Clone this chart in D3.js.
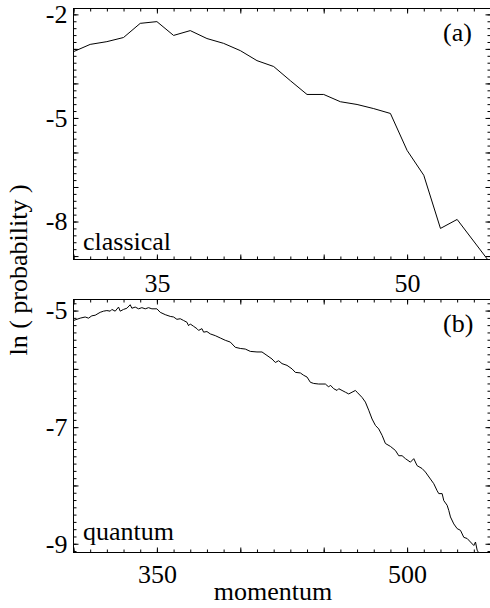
<!DOCTYPE html>
<html>
<head>
<meta charset="utf-8">
<script src="https://cdn.jsdelivr.net/npm/d3@7"></script>
<style>
  html, body { margin: 0; padding: 0; background: #fff; }
  svg { display: block; }
  text { font-family: "Liberation Serif", "Times New Roman", serif; fill: #000; }
</style>
</head>
<body>
<svg id="chart" width="490" height="608"></svg>
<script>
// Classical distribution: momentum vs ln(probability)
const classicalMomentum = [30, 31, 32, 33, 34, 35, 36, 37, 38, 39, 40, 41, 42, 43, 44, 45, 46, 47, 48, 49, 50, 51, 52, 53, 55];
const classicalLn = [-3.08, -2.87, -2.79, -2.67, -2.26, -2.21, -2.61, -2.47, -2.70, -2.84, -3.05, -3.34, -3.51, -3.92, -4.32, -4.32, -4.53, -4.61, -4.73, -4.87, -5.94, -6.66, -8.20, -7.94, -9.21];

// Quantum distribution: momentum vs ln(probability)
const quantumMomentum = [300, 304, 307, 309, 311, 313, 316, 318, 320, 322, 323, 325, 327, 328, 330, 332, 334, 335, 337, 339,
  341, 343, 345, 347, 350, 352, 355, 358, 360, 362, 364, 366, 368, 369, 370, 372, 374, 375, 377, 378,
  380, 382, 385, 388, 391, 394, 397, 400, 403, 406, 410, 413, 416, 419, 421, 423, 425, 428, 431, 433,
  436, 438, 440, 442, 444, 447, 451, 453, 454, 456, 458, 459, 461, 463, 465, 467, 469, 470, 473, 475,
  477, 479, 481, 483, 485, 487, 490, 493, 495, 497, 499, 502, 504, 506, 509, 511, 514, 516, 518, 519,
  521, 522, 524, 525, 526, 528, 530, 532, 534, 536, 538, 540, 541, 542, 543];
const quantumLn = [-5.17, -5.13, -5.11, -5.13, -5.09, -5.08, -5.03, -5.01, -5.00, -5.01, -4.98, -5.01, -4.94, -5.01, -4.98, -4.96, -4.90, -4.96, -4.94, -4.97,
  -4.95, -4.97, -4.95, -4.97, -4.97, -5.03, -5.07, -5.10, -5.11, -5.15, -5.14, -5.17, -5.20, -5.26, -5.23, -5.27, -5.31, -5.34, -5.31, -5.37,
  -5.36, -5.40, -5.43, -5.47, -5.51, -5.54, -5.63, -5.65, -5.66, -5.70, -5.71, -5.71, -5.77, -5.83, -5.89, -5.86, -5.91, -5.94, -6.00, -6.06,
  -6.07, -6.11, -6.14, -6.23, -6.25, -6.26, -6.26, -6.31, -6.28, -6.34, -6.37, -6.34, -6.37, -6.40, -6.43, -6.40, -6.37, -6.40, -6.49, -6.57,
  -6.71, -6.86, -6.97, -7.03, -7.14, -7.28, -7.33, -7.40, -7.49, -7.49, -7.54, -7.60, -7.54, -7.66, -7.71, -7.77, -7.89, -7.97, -8.09, -8.14,
  -8.14, -8.26, -8.34, -8.43, -8.54, -8.66, -8.74, -8.77, -8.89, -8.91, -8.97, -9.03, -8.97, -9.11, -9.16];

// Tick labels
const classicalTicksX = [35, 50];
const classicalTicksY = [-2, -5, -8];
const quantumTicksX = [350, 500];
const quantumTicksY = [-5, -7, -9];

const panelTags = ["(a)", "(b)"];
const panelNames = ["classical", "quantum"];
const yTitle = "ln ( probability )";
const xTitle = "momentum";

const svg = d3.select("#chart");
const left = 73.5, right = 490.5;

const panels = [
  {
    tag: panelTags[0], name: panelNames[0],
    xs: classicalMomentum, ys: classicalLn,
    xDomain: [30, 55], yDomain: [-9.1, -1.83],
    top: 8.5, bottom: 259.5,
    xLabels: classicalTicksX, yLabels: classicalTicksY,
    xMajor: d3.range(30, 56, 5), xMinor: d3.range(30, 56, 1),
    yMajor: d3.range(-9, -1.5, 1), yMinor: d3.range(-9, -1.8, 0.2),
    xPad: 14, tagY: 41, nameY: 250
  },
  {
    tag: panelTags[1], name: panelNames[1],
    xs: quantumMomentum, ys: quantumLn,
    xDomain: [300, 550], yDomain: [-9.15, -4.81],
    top: 299.5, bottom: 552.5,
    xLabels: quantumTicksX, yLabels: quantumTicksY,
    xMajor: d3.range(300, 551, 50), xMinor: d3.range(300, 551, 10),
    yMajor: d3.range(-9, -4.5, 1), yMinor: d3.range(-9.125, -4.8, 0.125),
    xPad: 12, tagY: 332, nameY: 540
  }
];

const FONT = 26;

panels.forEach((p, i) => {
  const x = d3.scaleLinear().domain(p.xDomain).range([left, right]);
  const y = d3.scaleLinear().domain(p.yDomain).range([p.bottom, p.top]);
  const g = svg.append("g");

  const clipId = "clip" + i;
  svg.append("clipPath").attr("id", clipId)
    .append("rect").attr("x", left).attr("y", p.top)
    .attr("width", right - left).attr("height", p.bottom - p.top);

  // tick helper: inward ticks with no labels
  function ticks(axisFn, scale, values, size, tx, ty) {
    const a = axisFn(scale).tickValues(values).tickSize(-size).tickFormat("");
    const gg = g.append("g").attr("transform", `translate(${tx},${ty})`).call(a);
    gg.select(".domain").remove();
    gg.selectAll("line").attr("stroke", "#000");
  }
  // bottom / top
  ticks(d3.axisBottom, x, p.xMinor, 3, 0, p.bottom);
  ticks(d3.axisBottom, x, p.xMajor, 5, 0, p.bottom);
  ticks(d3.axisTop, x, p.xMinor, 3, 0, p.top);
  ticks(d3.axisTop, x, p.xMajor, 5, 0, p.top);
  // left / right
  ticks(d3.axisLeft, y, p.yMinor, 3, left, 0);
  ticks(d3.axisLeft, y, p.yMajor, 5, left, 0);
  ticks(d3.axisRight, y, p.yMinor, 3, right, 0);
  ticks(d3.axisRight, y, p.yMajor, 5, right, 0);

  // labelled axes
  const ax = g.append("g").attr("transform", `translate(0,${p.bottom})`)
    .call(d3.axisBottom(x).tickValues(p.xLabels).tickSize(0).tickPadding(p.xPad).tickFormat(d3.format("d")));
  ax.select(".domain").remove();
  ax.selectAll("text").style("font-size", FONT + "px").style("font-family", '"Liberation Serif", serif').attr("fill", "#000");

  const ay = g.append("g").attr("transform", `translate(${left},0)`)
    .call(d3.axisLeft(y).tickValues(p.yLabels).tickSize(0).tickPadding(6).tickFormat(d => d.toString()));
  ay.select(".domain").remove();
  ay.selectAll("text").style("font-size", FONT + "px").style("font-family", '"Liberation Serif", serif').attr("fill", "#000");

  // frame
  g.append("rect")
    .attr("x", left).attr("y", p.top)
    .attr("width", right - left).attr("height", p.bottom - p.top)
    .attr("fill", "none").attr("stroke", "#000").attr("stroke-width", 1);

  // data line
  const pts = p.xs.map((v, k) => [v, p.ys[k]]);
  g.append("path")
    .datum(pts)
    .attr("clip-path", `url(#${clipId})`)
    .attr("fill", "none")
    .attr("stroke", "#000")
    .attr("stroke-width", 1)
    .attr("d", d3.line().x(d => x(d[0])).y(d => y(d[1])));

  // panel tag and name
  g.append("text").attr("x", 443).attr("y", p.tagY)
    .style("font-size", FONT + "px").text(p.tag);
  g.append("text").attr("x", 83).attr("y", p.nameY)
    .style("font-size", FONT + "px").text(p.name);
});

// axis titles
svg.append("text")
  .attr("transform", "translate(27,270) rotate(-90)")
  .attr("text-anchor", "middle")
  .style("font-size", FONT + "px")
  .text(yTitle);

svg.append("text")
  .attr("x", 273).attr("y", 600)
  .attr("text-anchor", "middle")
  .style("font-size", FONT + "px")
  .text(xTitle);
</script>
</body>
</html>
